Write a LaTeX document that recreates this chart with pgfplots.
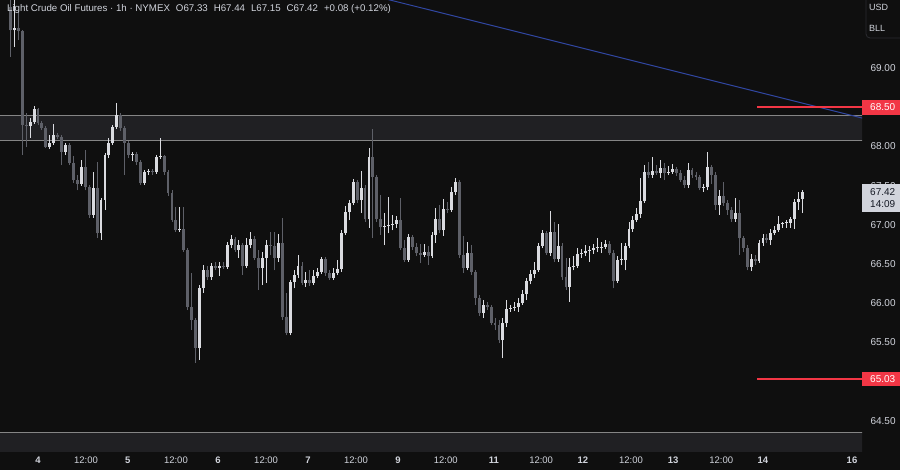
\documentclass[border=0pt]{standalone}
\usepackage{pgfplots}
\pgfplotsset{compat=1.18}
\usepackage{pgfplotstable}
\usepackage{fontspec}
\setmainfont{Liberation Sans}

\definecolor{bg}{HTML}{0F0F0F}
\definecolor{zone}{HTML}{202023}
\definecolor{zoneline}{HTML}{858585}
\definecolor{upc}{HTML}{DADBE0}
\definecolor{dnc}{HTML}{5E6068}
\definecolor{txt}{HTML}{D1D4DC}
\definecolor{levelred}{RGB}{242,54,69}
\definecolor{trend}{HTML}{3046A0}
\definecolor{boxline}{HTML}{2A2B30}
\definecolor{boxtxt}{HTML}{131722}

% hourly candles, k = bar index (day 4 opens at k=0)
\pgfplotstableread{
k O H L C
-7 69.78 69.99 69.14 69.48
-6 69.48 69.87 69.27 69.51
-5 69.51 69.74 69.36 69.47
-4 69.47 69.49 67.89 68.27
-3 68.27 68.43 67.99 68.26
-2 68.26 68.36 68.11 68.31
-1 68.31 68.52 68.29 68.48
0 68.48 68.49 68.27 68.30
1 68.30 68.32 68.21 68.23
2 68.23 68.26 67.98 67.99
3 67.99 68.15 67.97 68.04
4 68.04 68.29 68.02 68.15
5 68.15 68.17 68.10 68.12
6 68.12 68.15 67.76 67.93
7 67.93 68.04 67.89 68.02
8 68.02 68.04 67.76 67.79
9 67.79 67.88 67.53 67.57
10 67.57 67.64 67.44 67.52
11 67.52 67.83 67.50 67.74
12 67.74 67.95 67.44 67.48
13 67.48 67.51 67.09 67.13
14 67.13 67.67 67.09 67.47
15 67.47 67.80 66.83 66.89
16 66.89 67.34 66.81 67.32
17 67.32 67.92 67.19 67.89
18 67.89 68.11 67.85 68.04
19 68.04 68.27 68.02 68.25
20 68.25 68.55 68.22 68.40
21 68.40 68.43 68.20 68.23
22 68.23 68.26 67.64 68.04
23 68.04 68.07 67.85 67.89
24 67.89 67.93 67.81 67.90
25 67.90 67.93 67.76 67.80
26 67.80 67.83 67.51 67.53
27 67.53 67.70 67.51 67.67
28 67.67 67.71 67.64 67.69
29 67.69 67.71 67.64 67.67
30 67.67 67.89 67.65 67.87
31 67.87 68.11 67.84 67.88
32 67.88 67.89 67.64 67.67
33 67.67 67.70 67.37 67.41
34 67.41 67.44 67.04 67.06
35 67.06 67.23 66.91 66.93
36 66.93 67.23 66.91 66.95
37 66.95 67.23 66.65 66.68
38 66.68 66.70 65.91 65.95
39 65.95 66.39 65.66 65.79
40 65.79 65.81 65.24 65.43
41 65.43 66.23 65.28 66.19
42 66.19 66.49 66.13 66.42
43 66.42 66.47 66.30 66.33
44 66.33 66.51 66.30 66.47
45 66.47 66.53 66.42 66.45
46 66.45 66.53 66.35 66.47
47 66.47 66.53 66.44 66.46
48 66.46 66.78 66.44 66.74
49 66.74 66.87 66.70 66.82
50 66.82 66.84 66.65 66.68
51 66.68 66.81 66.58 66.74
52 66.74 66.77 66.36 66.47
53 66.47 66.83 66.45 66.74
54 66.74 66.91 66.70 66.82
55 66.82 66.86 66.55 66.58
56 66.58 66.68 66.17 66.45
57 66.45 66.65 66.23 66.58
58 66.58 66.81 66.26 66.74
59 66.74 66.91 66.62 66.73
60 66.73 66.91 66.42 66.58
61 66.58 66.88 66.53 66.77
62 66.77 67.09 65.79 65.82
63 65.82 66.13 65.59 65.62
64 65.62 66.30 65.59 66.27
65 66.27 66.42 66.19 66.36
66 66.36 66.62 66.32 66.47
67 66.47 66.53 66.23 66.26
68 66.26 66.40 66.21 66.30
69 66.30 66.42 66.22 66.26
70 66.26 66.42 66.23 66.35
71 66.35 66.45 66.32 66.40
72 66.40 66.59 66.37 66.56
73 66.56 66.59 66.35 66.39
74 66.39 66.42 66.30 66.32
75 66.32 66.45 66.30 66.39
76 66.39 66.55 66.36 66.44
77 66.44 66.93 66.40 66.89
78 66.89 67.24 66.87 67.16
79 67.16 67.32 67.06 67.28
80 67.28 67.58 67.25 67.55
81 67.55 67.57 67.28 67.32
82 67.32 67.69 67.15 67.47
83 67.47 67.51 67.04 67.07
84 67.07 67.98 66.96 67.87
85 67.87 68.22 66.83 67.61
86 67.61 67.64 67.04 67.07
87 67.07 67.38 66.87 66.97
88 66.97 67.15 66.74 66.99
89 66.99 67.35 66.89 67.00
90 67.00 67.13 66.93 67.01
91 67.01 67.11 66.96 67.06
92 67.06 67.34 66.68 66.70
93 66.70 66.81 66.53 66.55
94 66.55 66.88 66.53 66.84
95 66.84 66.87 66.68 66.72
96 66.72 66.77 66.60 66.64
97 66.64 66.76 66.51 66.62
98 66.62 66.76 66.59 66.65
99 66.65 66.73 66.49 66.60
100 66.60 66.91 66.58 66.87
101 66.87 67.21 66.77 67.07
102 67.07 67.25 66.89 66.93
103 66.93 67.33 66.86 67.20
104 67.20 67.29 67.15 67.19
105 67.19 67.48 67.16 67.42
106 67.42 67.60 67.38 67.55
107 67.55 67.57 66.58 66.62
108 66.62 66.86 66.39 66.45
109 66.45 66.78 66.42 66.64
110 66.64 66.74 66.36 66.40
111 66.40 66.42 65.98 66.07
112 66.07 66.10 65.84 65.88
113 65.88 66.04 65.81 65.98
114 65.98 66.02 65.91 65.95
115 65.95 65.98 65.72 65.75
116 65.75 65.81 65.66 65.72
117 65.72 65.79 65.49 65.53
118 65.53 65.81 65.30 65.75
119 65.75 66.04 65.70 65.93
120 65.93 65.98 65.89 65.94
121 65.94 66.02 65.90 65.95
122 65.95 66.07 65.89 66.00
123 66.00 66.17 65.98 66.12
124 66.12 66.32 66.04 66.28
125 66.28 66.42 66.24 66.37
126 66.37 66.53 66.32 66.42
127 66.42 66.77 66.40 66.73
128 66.73 66.93 66.70 66.89
129 66.89 66.92 66.62 66.64
130 66.64 67.18 66.60 66.91
131 66.91 67.04 66.53 66.56
132 66.56 67.01 66.53 66.73
133 66.73 66.77 66.30 66.33
134 66.33 66.58 66.17 66.21
135 66.21 66.58 66.02 66.46
136 66.46 66.60 66.42 66.47
137 66.47 66.70 66.45 66.63
138 66.63 66.69 66.58 66.64
139 66.64 66.74 66.60 66.67
140 66.67 66.73 66.53 66.68
141 66.68 66.76 66.63 66.70
142 66.70 66.83 66.65 66.70
143 66.70 66.78 66.64 66.72
144 66.72 66.81 66.69 66.76
145 66.76 66.79 66.62 66.64
146 66.64 66.68 66.19 66.28
147 66.28 66.60 66.26 66.55
148 66.55 66.77 66.49 66.55
149 66.55 66.77 66.42 66.73
150 66.73 67.04 66.70 66.95
151 66.95 67.11 66.91 67.06
152 67.06 67.21 67.04 67.14
153 67.14 67.60 67.09 67.30
154 67.30 67.76 67.28 67.67
155 67.67 67.80 67.60 67.64
156 67.64 67.87 67.60 67.69
157 67.69 67.76 67.64 67.66
158 67.66 67.83 67.60 67.72
159 67.72 67.79 67.57 67.66
160 67.66 67.75 67.64 67.67
161 67.67 67.77 67.65 67.71
162 67.71 67.74 67.62 67.66
163 67.66 67.70 67.55 67.57
164 67.57 67.62 67.47 67.51
165 67.51 67.79 67.47 67.70
166 67.70 67.72 67.60 67.64
167 67.64 67.67 67.57 67.61
168 67.61 67.64 67.44 67.47
169 67.47 67.52 67.42 67.48
170 67.48 67.93 67.44 67.74
171 67.74 67.76 67.52 67.64
172 67.64 67.67 67.19 67.25
173 67.25 67.44 67.13 67.37
174 67.37 67.55 67.24 67.28
175 67.28 67.32 67.13 67.19
176 67.19 67.23 67.04 67.07
177 67.07 67.34 67.04 67.15
178 67.15 67.32 66.62 66.83
179 66.83 66.86 66.65 66.70
180 66.70 66.74 66.42 66.46
181 66.46 66.63 66.41 66.56
182 66.56 66.62 66.49 66.54
183 66.54 66.81 66.51 66.77
184 66.77 66.88 66.73 66.83
185 66.83 66.88 66.77 66.81
186 66.81 66.95 66.74 66.89
187 66.89 66.99 66.87 66.93
188 66.93 67.11 66.91 67.01
189 67.01 67.04 66.96 67.02
190 67.02 67.06 66.96 67.02
191 67.02 67.10 66.96 67.07
192 67.07 67.33 66.95 67.29
193 67.29 67.42 67.19 67.33
194 67.33 67.44 67.15 67.42
}\oil

\begin{document}
\begin{tikzpicture}
\useasboundingbox (0,0) rectangle (900pt,470pt);
\fill[bg] (0,0) rectangle (900pt,470pt);

\begin{axis}[
  at={(0pt,18pt)}, anchor=south west,
  scale only axis, width=862pt, height=452pt,
  xmin=-9.645, xmax=209.137,
  ymin=64.102, ymax=69.867,
  axis line style={draw=none},
  major tick length=0pt,
  ytick={64.5,65.5,66,66.5,67,67.5,68,68.5,69},
  ytick pos=right, yticklabel pos=right,
  yticklabel style={font=\fontsize{10}{12}\selectfont, text=txt, xshift=5pt},
  /pgf/number format/.cd, fixed, fixed zerofill, precision=2, assume math mode=true,
  /pgfplots/.cd,
  xtick={0,12.2,22.8,35,45.7,57.9,68.5,80.7,91.4,103.5,115.7,127.7,138.3,150.5,161.2,173.4,184,206.6},
  xticklabels={\textbf{4},12:00,\textbf{5},12:00,\textbf{6},12:00,\textbf{7},12:00,\textbf{9},12:00,
               \textbf{11},12:00,\textbf{12},12:00,\textbf{13},12:00,\textbf{14},\textbf{16}},
  xtick pos=bottom,
  xticklabel style={font=\fontsize{9.5}{11}\selectfont, text=txt, yshift=-1pt},
]
% zones
\addplot[fill=zone, draw=none] coordinates {(-10,68.078) (210,68.078) (210,68.391) (-10,68.391)} -- cycle;
\addplot[fill=zone, draw=none] coordinates {(-10,64.0) (210,64.0) (210,64.353) (-10,64.353)} -- cycle;
\addplot[draw=zoneline, line width=0.9pt] coordinates {(-10,68.391) (210,68.391)};
\addplot[draw=zoneline, line width=0.9pt] coordinates {(-10,68.078) (210,68.078)};
\addplot[draw=zoneline, line width=0.9pt] coordinates {(-10,64.353) (210,64.353)};

% trend line and levels
\addplot[draw=trend, line width=1pt] coordinates {(80,69.984) (215,68.288)};
\addplot[color=levelred, mark=none, solid, line width=1.5pt] coordinates {(182.5,68.50) (210,68.50)};
\addplot[color=levelred, mark=none, solid, line width=1.5pt] coordinates {(182.5,65.03) (210,65.03)};

% wicks
\addplot[draw=none, mark=none,
  restrict expr to domain={\thisrow{C}-\thisrow{O}}{0:100},
  error bars/.cd, y dir=plus, y explicit, error mark=none,
  error bar style={draw=upc, line width=0.9pt}]
  table[x=k, y=L, y error plus expr=\thisrow{H}-\thisrow{L}] {\oil};
\addplot[draw=none, mark=none,
  restrict expr to domain={\thisrow{C}-\thisrow{O}}{-100:-0.0001},
  error bars/.cd, y dir=plus, y explicit, error mark=none,
  error bar style={draw=dnc, line width=0.9pt}]
  table[x=k, y=L, y error plus expr=\thisrow{H}-\thisrow{L}] {\oil};
% bodies
\addplot[draw=none, mark=none,
  restrict expr to domain={\thisrow{C}-\thisrow{O}}{0:100},
  error bars/.cd, y dir=plus, y explicit, error mark=none,
  error bar style={draw=upc, line width=2.9pt}]
  table[x=k, y=O, y error plus expr={max(\thisrow{C}-\thisrow{O},0.012)}] {\oil};
\addplot[draw=none, mark=none,
  restrict expr to domain={\thisrow{C}-\thisrow{O}}{-100:-0.0001},
  error bars/.cd, y dir=plus, y explicit, error mark=none,
  error bar style={draw=dnc, line width=2.9pt}]
  table[x=k, y=C, y error plus expr={\thisrow{O}-\thisrow{C}}] {\oil};
\end{axis}

% header
\node[anchor=base west, text=txt, font=\fontsize{9.7}{12}\selectfont, inner sep=0pt]
  at (7pt,458.5pt) {Light Crude Oil Futures · 1h · NYMEX\hspace{6pt}O67.33\hspace{6pt}H67.44\hspace{6pt}L67.15\hspace{6pt}C67.42\hspace{6pt}+0.08 (+0.12\%)};

% currency box
\draw[boxline, line width=0.8pt, rounded corners=4pt] (866pt,472pt) -- (866pt,432pt) -- (902pt,432pt);
\node[text=txt, font=\fontsize{9}{10}\selectfont, anchor=west, inner sep=0pt] at (869pt,462.5pt) {USD};
\node[text=txt, font=\fontsize{9}{10}\selectfont, anchor=west, inner sep=0pt] at (869pt,441.5pt) {BLL};

% price scale labels
\fill[levelred] (862pt,370pt) rectangle (900pt,355pt);
\node[text=white, font=\fontsize{10}{12}\selectfont, anchor=west, inner sep=0pt] at (870pt,362.5pt) {68.50};
\fill[levelred] (862pt,98pt) rectangle (900pt,84pt);
\node[text=white, font=\fontsize{10}{12}\selectfont, anchor=west, inner sep=0pt] at (870pt,91pt) {65.03};
\fill[txt] (862pt,286pt) rectangle (900pt,258pt);
\node[text=boxtxt, font=\fontsize{10}{12}\selectfont, anchor=west, inner sep=0pt] at (870pt,278pt) {67.42};
\node[text=boxtxt, font=\fontsize{10}{12}\selectfont, anchor=west, inner sep=0pt] at (870pt,265.5pt) {14:09};
\end{tikzpicture}
\end{document}
